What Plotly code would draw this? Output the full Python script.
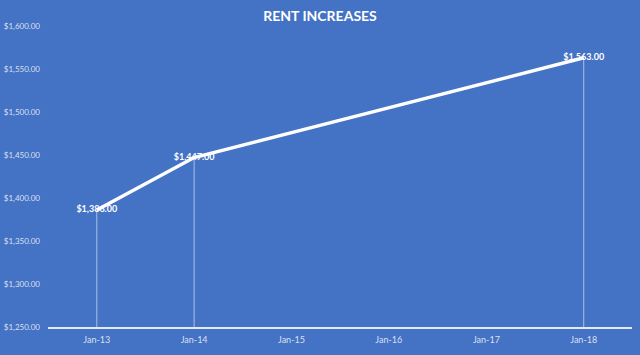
import plotly.graph_objects as go

dates = ["2013-01-01", "2014-01-01", "2018-01-01"]
rent = [1386, 1447, 1563]
labels = ["$1,386.00", "$1,447.00", "$1,563.00"]
tick_dates = ["2013-01-01", "2014-01-01", "2015-01-01", "2016-01-01", "2017-01-01", "2018-01-01"]
tick_text = ["Jan-13", "Jan-14", "Jan-15", "Jan-16", "Jan-17", "Jan-18"]
y_min, y_max = 1250, 1600
y_ticks = [1250, 1300, 1350, 1400, 1450, 1500, 1550, 1600]
y_tick_text = ["$%s.00" % format(v, ",") for v in y_ticks]

bg = "#4472C4"
font = "Lato"

# drop lines from each point to the axis
dx, dy = [], []
for d, v in zip(dates, rent):
    dx += [d, d, None]
    dy += [v, y_min, None]

fig = go.Figure()
fig.add_trace(go.Scatter(x=dx, y=dy, mode="lines",
                         line=dict(color="rgba(255,255,255,0.55)", width=1),
                         hoverinfo="skip", showlegend=False))
fig.add_trace(go.Scatter(x=dates, y=rent, mode="lines+text", text=labels,
                         textposition="middle center",
                         textfont=dict(family=font, size=9, color="white", weight="bold"),
                         line=dict(color="white", width=3.5), showlegend=False))

fig.update_layout(
    width=640, height=355,
    paper_bgcolor=bg, plot_bgcolor=bg,
    margin=dict(l=48, r=8, t=26, b=28),
    title=dict(text="RENT INCREASES", x=0.5, xanchor="center", y=0.955, yanchor="middle",
               font=dict(family=font, size=14, color="white", weight="bold")),
    xaxis=dict(type="date", range=["2012-07-02", "2018-07-01"],
               tickvals=tick_dates, ticktext=tick_text, automargin=False,
               showgrid=False, zeroline=False,
               showline=True, linecolor="rgba(255,255,255,0.85)", linewidth=1.5,
               ticks="", ticklabelstandoff=3,
               tickfont=dict(family=font, size=9, color="rgba(255,255,255,0.8)")),
    yaxis=dict(range=[y_min, y_max], tickvals=y_ticks, ticktext=y_tick_text,
               showgrid=False, zeroline=False, showline=False, ticks="",
               ticklabelstandoff=7, automargin=False,
               tickfont=dict(family=font, size=8, color="rgba(255,255,255,0.8)")),
)

fig.write_html("out.html")
